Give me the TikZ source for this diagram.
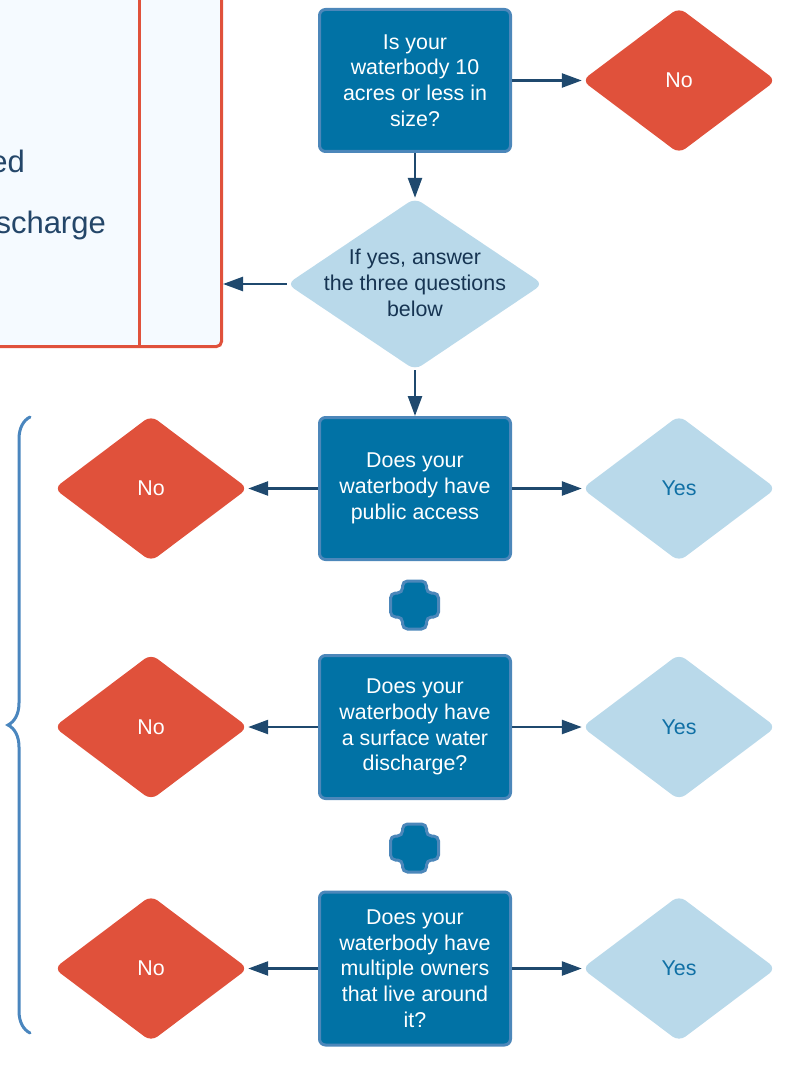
\documentclass[tikz,border=0pt]{standalone}
\usepackage{fontspec}
\setmainfont{Liberation Sans}
\usetikzlibrary{shapes.geometric,decorations.pathreplacing,arrows.meta}
\definecolor{qblue}{RGB}{1,114,165}
\definecolor{qedge}{RGB}{76,135,186}
\definecolor{nored}{RGB}{224,81,59}
\definecolor{yeslight}{RGB}{185,217,234}
\definecolor{navy}{RGB}{31,73,110}
\definecolor{splittext}{RGB}{22,52,82}
\definecolor{yestext}{RGB}{16,112,165}
\definecolor{infofill}{RGB}{245,250,255}
\definecolor{infotext}{RGB}{36,70,105}
\definecolor{bracecol}{RGB}{74,134,190}
\newcommand{\boxfont}{\fontsize{21.4}{25.7}\selectfont}
\newcommand{\infofont}{\fontsize{31}{36}\selectfont}

\tikzset{
  qbox/.style={draw=qedge,fill=qblue,line width=3pt,rounded corners=6pt,
    minimum width=191pt,inner sep=0pt,align=center,text=white,font=\boxfont},
  nodia/.style={diamond,fill=nored,rounded corners=8pt,minimum width=194pt,
    minimum height=146pt,inner sep=0pt,text=white,font=\boxfont},
  yesdia/.style={nodia,fill=yeslight,text=yestext},
  flow/.style={draw=navy,line width=2.5pt,-{Triangle[length=20pt,width=14pt]}},
  plusmark/.style={draw=qedge,fill=qblue,line width=3pt,rounded corners=5pt},
}

\begin{document}
\begin{tikzpicture}[x=1pt,y=-1pt]
\useasboundingbox (0,0) rectangle (791,1078);
\clip (0,0) rectangle (791,1078);

% box on the left, cut by the page
\node (info) [draw=nored,fill=infofill,line width=3pt,rounded corners=5pt,
  minimum width=250pt,minimum height=375pt,inner sep=0pt] at (96.5,159) {};
\draw[draw=nored,line width=3pt] (info.north -| 139,0) -- (info.south -| 139,0);
\node[anchor=base east,text=infotext,font=\infofont,inner sep=0pt] (infoa) at (25,173) {ed};
\node[anchor=base east,text=infotext,font=\infofont,inner sep=0pt] (infob) at (106,233) {scharge};

% size question
\node (size) [qbox,minimum height=142pt] at (415,80.5) {Is your\\waterbody 10\\acres or less in\\size?};
\node (nosize) [nodia] at (679,80.5) {No};

\node (split) [diamond,fill=yeslight,rounded corners=8pt,minimum width=256pt,
  minimum height=172pt,inner sep=0pt] at (415,284) {};
\node[align=center,text=splittext,font=\boxfont] (splittxt) at (415,283) {If yes, answer\\the three questions\\below};

% the three questions
\node (access) [qbox,minimum height=142pt] at (415,488.5) {Does your\\waterbody have\\public access};
\node (noaccess) [nodia] at (151,488.5) {No};
\node (yesaccess) [yesdia] at (679,488.5) {Yes};

\node (outflow) [qbox,minimum height=143pt] at (415,727) {Does your\\waterbody have\\a surface water\\discharge?};
\node (nooutflow) [nodia] at (151,727) {No};
\node (yesoutflow) [yesdia] at (679,727) {Yes};

\node (owners) [qbox,minimum height=153pt] at (415,968.5) {Does your\\waterbody have\\multiple owners\\that live around\\it?};
\node (noowners) [nodia] at (151,968.5) {No};
\node (yesowners) [yesdia] at (679,968.5) {Yes};

\foreach \y in {605,848}
  \draw[plusmark,shift={(414.5,\y)}] (-12,-24) -- (12,-24) -- (12,-12) -- (24,-12)
    -- (24,12) -- (12,12) -- (12,24) -- (-12,24) -- (-12,12) -- (-24,12)
    -- (-24,-12) -- (-12,-12) -- cycle;

\draw[flow] (size.east) -- (nosize.west);
\draw[flow] (size.south) -- (split.north);
\draw[flow] (split.west) -- (split.west -| info.east);
\draw[flow] (split.south) -- (access.north);

\draw[flow] (access.west) -- (noaccess.east);
\draw[flow] (access.east) -- (yesaccess.west);
\draw[flow] (outflow.west) -- (nooutflow.east);
\draw[flow] (outflow.east) -- (yesoutflow.west);
\draw[flow] (owners.west) -- (noowners.east);
\draw[flow] (owners.east) -- (yesowners.west);

\draw[draw=bracecol,line width=3pt,line cap=round,decorate,
  decoration={brace,amplitude=22pt}] (30,1033) -- (30,417);
\end{tikzpicture}
\end{document}
